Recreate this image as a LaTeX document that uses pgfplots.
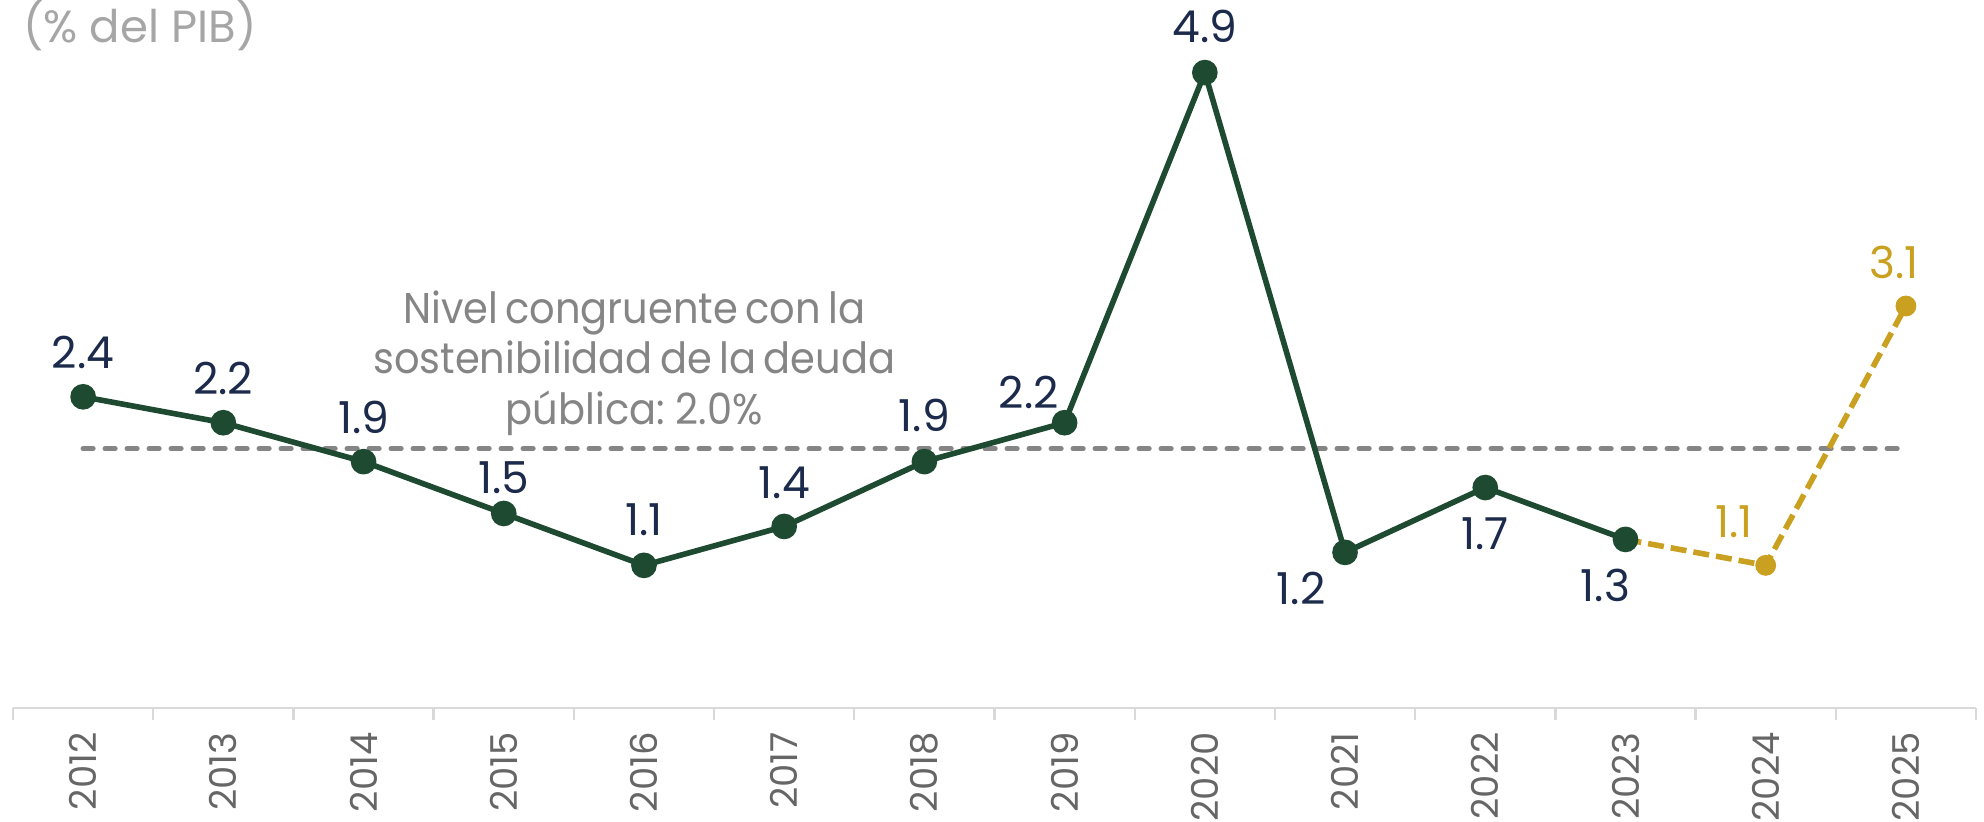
\documentclass[border=0pt]{standalone}
\usepackage{pgfplots}
\pgfplotsset{compat=1.18}
\usepackage{pgfplotstable}
\usepackage{fontspec}
\setmainfont{Poppins}
\newfontfamily\annfont{Poppins}[FakeStretch=0.93]
\newcommand\annstyle{\fontsize{21.5}{25.3}\annfont\spaceskip=0.17em\relax}
\definecolor{dgreen}{HTML}{1F4A32}
\definecolor{navy}{HTML}{1C2B4B}
\definecolor{gold}{HTML}{C9A020}
\definecolor{refgray}{HTML}{858585}
\definecolor{tickgray}{HTML}{666666}
\definecolor{unitgray}{HTML}{A6A6A6}
\definecolor{axgray}{HTML}{D9D9D9}

\pgfplotstableread{
x y lab dx dy
0 2.4 2.4 0 22
1 2.2 2.2 0 22
2 1.9 1.9 0 22
3 1.5 1.5 0 18
4 1.1 1.1 0 23
5 1.4 1.4 0 22
6 1.9 1.9 0 23
7 2.2 2.2 -18 15
8 4.9 4.9 0 23
9 1.2 1.2 -22 -18
10 1.7 1.7 0 -23
11 1.3 1.3 -10 -23
}\maindata

\pgfplotstableread{
x y
11 1.3
12 1.1
13 3.1
}\fcline

\pgfplotstableread{
x y lab dx dy
12 1.1 1.1 -16 22
13 3.1 3.1 -6 22
}\fcpts

\begin{document}
\begin{tikzpicture}
\begin{axis}[
  name=ax,
  scale only axis,
  width=981.5pt, height=354pt,
  xmin=-0.5, xmax=13.5, ymin=0, ymax=5.46,
  axis y line=none,
  axis x line=bottom,
  axis line style={draw=axgray, line width=1.2pt, -},
  xtick={0,1,2,3,4,5,6,7,8,9,10,11,12,13},
  xticklabels={2012,2013,2014,2015,2016,2017,2018,2019,2020,2021,2022,2023,2024,2025},
  major tick length=0pt,
  minor xtick={-0.5,0.5,1.5,2.5,3.5,4.5,5.5,6.5,7.5,8.5,9.5,10.5,11.5,12.5,13.5},
  minor tick length=6pt,
  tick align=outside,
  minor tick style={draw=axgray, line width=1.2pt},
  xticklabel shift=12pt,
  xticklabel style={rotate=90, anchor=east, inner sep=0pt, font=\fontsize{18.5}{18.5}\selectfont, text=tickgray},
  clip=false,
]
\addplot[refgray, line width=2.6pt, dash pattern=on 5pt off 6pt, line cap=round] coordinates {(0,2) (13,2)};

\addplot[gold, line width=2.8pt, dash pattern=on 8pt off 3.5pt, mark=none] table[x=x,y=y] {\fcline};

\addplot[only marks, mark=*, mark size=5pt, mark options={fill=gold, draw=gold},
  point meta=explicit symbolic,
  visualization depends on={\thisrow{dx} \as \dx},
  visualization depends on={\thisrow{dy} \as \dy},
  nodes near coords,
  every node near coord/.append style={anchor=center, xshift=\dx pt, yshift=\dy pt, text=gold, font=\fontsize{22}{22}\selectfont}
] table[x=x,y=y,meta=lab] {\fcpts};

\addplot[dgreen, line width=2.8pt, mark=*, mark size=5pt, mark options={fill=dgreen, draw=dgreen},
  point meta=explicit symbolic,
  visualization depends on={\thisrow{dx} \as \dx},
  visualization depends on={\thisrow{dy} \as \dy},
  nodes near coords,
  every node near coord/.append style={anchor=center, xshift=\dx pt, yshift=\dy pt, text=navy, font=\fontsize{22}{22}\selectfont}
] table[x=x,y=y,meta=lab] {\maindata};

\node[align=center, text=refgray, font=\annstyle] at (axis cs:3.93,2.66)
  {Nivel congruente con la\\sostenibilidad de la deuda\\pública: 2.0\%};

\node[anchor=north west, inner sep=0pt, xshift=5pt, text=unitgray, font=\fontsize{22.5}{22.5}\selectfont] at (rel axis cs:0,1) {(\% del PIB)};
\end{axis}
\path (ax.south west) +(-6.5pt,-56pt);
\path (ax.north east) +(4pt,0pt);
\end{tikzpicture}
\end{document}
